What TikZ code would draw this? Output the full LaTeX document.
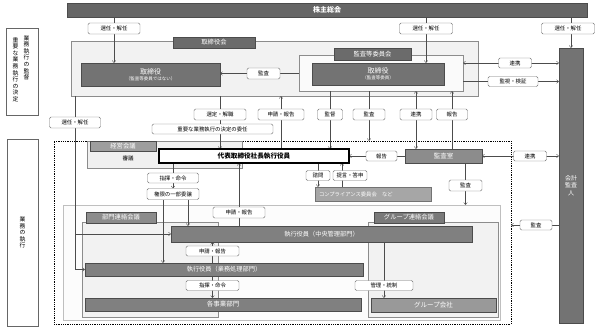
\documentclass[tikz,border=0pt]{standalone}
\usepackage{fontspec}
\setmainfont{Noto Sans CJK JP}
\usepackage{tikz}
\usetikzlibrary{calc, positioning, arrows.meta}
\pgfdeclarelayer{back}
\pgfdeclarelayer{wires}
\pgfsetlayers{back,wires,main}

\begin{document}
\begin{tikzpicture}[
  x=1pt, y=-1pt,
  font=\fontsize{5.4}{6}\selectfont,
  box/.style={draw=black!70, inner sep=0pt, outer sep=0pt, align=center},
  bar/.style={box, fill=black!55, text=white, font=\fontsize{6.2}{7}\selectfont},
  tab/.style={box, fill=black!58, text=white, font=\fontsize{6.3}{7}\selectfont},
  frame/.style={box, fill=black!5, draw=black!45},
  lbl/.style={box, draw=black!55, fill=white, rounded corners=1.5pt, minimum height=10pt},
  vtxt/.style={inner sep=0pt, align=center, font=\fontsize{5.8}{6.6}\selectfont},
  ->, >={Straight Barb[length=2.2pt,width=3.6pt]}, line width=0.5pt
]
\useasboundingbox (0,0) rectangle (600,330);

% Frames (behind everything)
\begin{pgfonlayer}{back}
\node[frame, minimum width=407pt, minimum height=55pt] (bod) at (274.5,68.5) {};
\node[frame, fill=black!2, minimum width=164pt, minimum height=36pt] (acm) at (381,73) {};
\node[box, draw=black, dash pattern=on 0.9pt off 0.9pt, line width=0.8pt,
      minimum width=457pt, minimum height=183pt] (exec) at (282.5,232.5) {};
\node[frame, fill=black!6, minimum width=155pt, minimum height=27pt] (mgmt) at (164.5,154.5) {};
\node[frame, fill=black!1, draw=black!25, minimum width=437pt, minimum height=115pt] (area) at (281.5,262.5) {};
\node[frame, minimum width=136pt, minimum height=95pt] (dept) at (150,269.5) {};
\node[frame, minimum width=130pt, minimum height=95pt] (grp) at (433,269.5) {};
\end{pgfonlayer}

% Left side captions
\node[box, draw=black!60, minimum width=32pt, minimum height=87pt] (sup) at (22,71.5) {};
\node[vtxt, anchor=north] (supa) at (15.5,37) {重\\要\\な\\業\\務\\執\\行\\の\\決\\定};
\node[vtxt, anchor=north] (supb) at (26.5,35) {業\\務\\執\\行\\の\\監\\督};
\node[box, draw=black!60, minimum width=31pt, minimum height=187pt,
      font=\fontsize{5.8}{6.6}\selectfont] (run) at (22.5,232.5) {業\\務\\の\\執\\行};

% Boards and committees
\node[bar, fill=black!60, minimum width=520pt, minimum height=14pt,
      font=\bfseries\fontsize{7}{8}\selectfont] (gm) at (327,10) {株主総会};
\node[tab, minimum width=82pt, minimum height=11pt] (bodtab) at (214,42.5) {取締役会};
\node[bar, minimum width=139pt, minimum height=23pt, font=\fontsize{4.5}{6}\selectfont]
      (dirn) at (150.5,74.5) {{\fontsize{7}{8.5}\selectfont 取締役}\\（監査等委員ではない）};
\node[tab, minimum width=77pt, minimum height=12pt] (acmtab) at (372.5,54) {監査等委員会};
\node[bar, minimum width=132pt, minimum height=22pt, font=\fontsize{4.5}{6}\selectfont]
      (dira) at (378,74) {{\fontsize{7}{8.5}\selectfont 取締役}\\（監査等委員）};
\node[bar, minimum width=24pt, minimum height=275pt, font=\fontsize{6}{7.5}\selectfont]
      (ca) at (571,185.5) {会計\\監査\\人};

% Executive side
\node[tab, fill=black!38, minimum width=66pt, minimum height=10pt] (mgmttab) at (123,146) {経営会議};
\node[inner sep=0pt, font=\fontsize{5.5}{6}\selectfont] (delib) at (128,158) {審議};
\node[box, draw=black, line width=1.2pt, fill=white, minimum width=190pt, minimum height=14pt,
      font=\bfseries\fontsize{6.6}{7}\selectfont] (ceo) at (254,156) {代表取締役社長執行役員};
\node[bar, fill=black!45, minimum width=77pt, minimum height=14pt, font=\fontsize{6.5}{7}\selectfont]
      (aud) at (443.5,156) {監査室};
\node[bar, fill=black!35, draw=black!55, minimum width=116pt, minimum height=14pt,
      text width=108pt, align=left, font=\fontsize{5.3}{6}\selectfont]
      (comp) at (373,194) {コンプライアンス委員会　など};
\node[tab, fill=black!45, minimum width=70pt, minimum height=11pt] (depttab) at (121,217.5) {部門連絡会議};
\node[tab, fill=black!52, minimum width=70pt, minimum height=11pt] (grptab) at (409,217.5) {グループ連絡会議};
\node[bar, fill=black!50, minimum width=301pt, minimum height=16pt] (eoc) at (321.5,234) {執行役員（中央管理部門）};
\node[bar, fill=black!50, minimum width=278pt, minimum height=13pt] (eob) at (224,269.5) {執行役員（業務処理部門）};
\node[bar, fill=black!50, minimum width=276pt, minimum height=13pt, font=\fontsize{6.5}{7}\selectfont]
      (bu) at (223,304.5) {各事業部門};
\node[bar, fill=black!40, minimum width=125pt, minimum height=14pt, font=\fontsize{6.5}{7}\selectfont]
      (gc) at (433.5,305) {グループ会社};

% Connector labels
\node[lbl, minimum width=52pt, minimum height=11pt] (s1) at (114,28.5) {選任・解任};
\node[lbl, minimum width=53pt, minimum height=11pt] (s2) at (426,28.5) {選任・解任};
\node[lbl, minimum width=53pt, minimum height=11pt] (s3) at (568,28.5) {選任・解任};
\node[lbl, minimum width=33pt, minimum height=11pt] (kan1) at (263.5,73.5) {監査};
\node[lbl, minimum width=33pt] (rk1) at (515,63) {連携};
\node[lbl, minimum width=50pt] (kk) at (513,81.5) {監視・検証};
\node[lbl, minimum width=51pt, minimum height=11pt] (s4) at (75,122.5) {選任・解任};
\node[lbl, minimum width=52pt, minimum height=11pt] (sk) at (220,114.5) {選定・解職};
\node[lbl, minimum width=46pt, minimum height=11pt] (r1) at (281,114.5) {申請・報告};
\node[lbl, minimum width=25pt, minimum height=11pt] (kt) at (330,114.5) {監督};
\node[lbl, minimum width=32pt, minimum height=11pt] (a2) at (369,114.5) {監査};
\node[lbl, minimum width=32pt, minimum height=11pt] (rk2) at (416,114.5) {連携};
\node[lbl, minimum width=31pt, minimum height=11pt] (hk1) at (452,114.5) {報告};
\node[lbl, minimum width=121pt] (dg) at (212.5,129) {重要な業務執行の決定の委任};
\node[lbl, minimum width=31pt] (hk2) at (381.5,156) {報告};
\node[lbl, minimum width=33pt] (rk3) at (530,156) {連携};
\node[lbl, minimum width=24pt] (sm) at (318,175.5) {諮問};
\node[lbl, minimum width=34pt] (tk) at (350,175.5) {提言・答申};
\node[lbl, minimum width=33pt, minimum height=11pt] (a3) at (465.5,185.5) {監査};
\node[lbl, minimum width=51pt] (cm1) at (173,178) {指揮・命令};
\node[lbl, minimum width=52pt, minimum height=11pt] (dl) at (173,194) {権限の一部委譲};
\node[lbl, minimum width=52pt, minimum height=11pt] (r3) at (239,212.5) {申請・報告};
\node[lbl, minimum width=53pt] (r4) at (212.5,251) {申請・報告};
\node[lbl, minimum width=53pt] (cm2) at (212.5,285.5) {指揮・命令};
\node[lbl, minimum width=58pt] (kt2) at (384,285.5) {管理・統制};
\node[lbl, minimum width=32pt] (a4) at (536,225) {監査};

% Connectors
\begin{pgfonlayer}{wires}
\begin{scope}[draw=black!70]
\draw (gm.south -| s1) -- (dirn.north -| s1);
\draw (gm.south -| s2) -- (dira.north -| s2);
\draw (gm.south -| ca) -- (ca.north);
\draw (acm.west |- kan1) -- (dirn.east |- kan1);
\draw[<->] (acm.east |- rk1) -- (ca.west |- rk1);
\draw (acm.east |- kk) -- (ca.west |- kk);
\draw (bod.south -| s4) |- (eob.west);
\draw (s4 |- eoc.west) -- (eoc.west);
\draw (bod.south -| sk) -- (ceo.north -| sk);
\draw (ceo.north -| r1) -- (bod.south -| r1);
\draw (acm.south -| kt) -- (ceo.north -| kt);
\draw (acm.south -| a2) -- (exec.north -| a2);
\draw[<->] (acm.south -| rk2) -- (aud.north -| rk2);
\draw (aud.north -| hk1) -- (acm.south -| hk1);
\draw (aud.west) -- (ceo.east);
\draw[<->] (aud.east) -- (ca.west |- aud.east);
\draw (ceo.south -| sm) -- (comp.north -| sm);
\draw ([xshift=9pt]tk.west |- comp.north) -- ([xshift=9pt]tk.west |- ceo.south);
\draw (aud.south -| a3) -- (area.north -| a3);
\draw (ceo.south -| cm1) -- (dl.north);
\draw ([xshift=16pt]dl.south west) -- ([xshift=16pt]dl.south west |- eob.north);
\draw ([xshift=41pt]dl.south west) -- ([xshift=41pt]dl.south west |- eoc.north);
\draw (eoc.north -| r3) -- (ceo.south -| r3);
\draw (eob.north -| r4) -- (eoc.south -| r4);
\draw (eob.south -| cm2) -- (bu.north -| cm2);
\draw (eoc.south -| kt2) -- (gc.north -| kt2);
\draw (ca.west |- a4) -- (exec.east |- a4);
\end{scope}
\end{pgfonlayer}
\end{tikzpicture}
\end{document}
